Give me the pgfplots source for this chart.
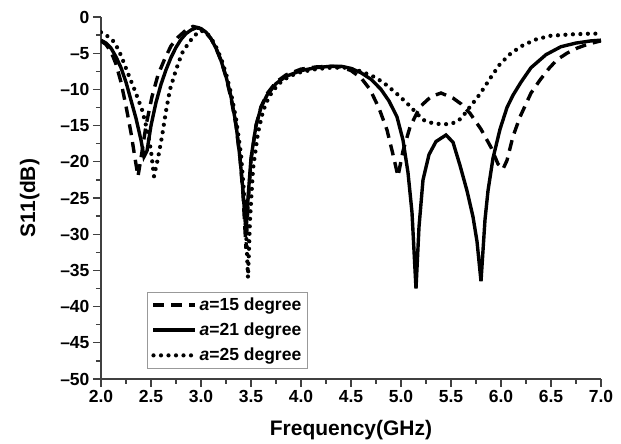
\documentclass[border=0pt]{standalone}
\usepackage{pgfplots}
\pgfplotsset{compat=1.18}
\usepackage{fontspec}
\setmainfont{Liberation Sans}
\begin{document}
\begin{tikzpicture}
\begin{axis}[
  scale only axis, width=500pt, height=362pt,
  xmin=2, xmax=7, ymin=-50, ymax=0,
  axis x line*=bottom, axis y line*=left,
  axis line style={line width=1.3pt, color=black!75},
  xtick={2,2.5,...,7}, ytick={-50,-45,...,0},
  yticklabels={--50,--45,--40,--35,--30,--25,--20,--15,--10,--5,0},
  minor x tick num=1, minor y tick num=1,
  tick align=outside,
  major tick length=8pt, minor tick length=5pt,
  tick style={line width=1.3pt, color=black!75},
  /pgf/number format/assume math mode=true,
  xticklabel style={/pgf/number format/fixed, /pgf/number format/fixed zerofill, /pgf/number format/precision=1},
  ticklabel style={font=\bfseries\fontsize{17.5}{17.5}\selectfont},
  xlabel={Frequency(GHz)}, ylabel={S11(dB)},
  label style={font=\bfseries\fontsize{21}{21}\selectfont},
  xlabel style={yshift=-10pt},
  ylabel style={yshift=14pt},
  legend style={at={(0.092,0.028)}, anchor=south west, draw=black!40, line width=0.8pt,
    font=\bfseries\fontsize{17.5}{17.5}\selectfont, row sep=7pt, inner sep=4pt},
  legend cell align=left,
  legend image code/.code={\draw[#1] (0pt,0pt) -- (42pt,0pt);},
]
\addplot[black, line width=3.4pt, dash pattern=on 11pt off 7pt] coordinates {
(2.00,-3.3)(2.05,-3.8)(2.10,-4.8)(2.15,-6.5)(2.20,-9.0)(2.25,-12.3)(2.30,-16.0)(2.34,-19.5)(2.37,-22.0)(2.40,-19.5)(2.45,-15.0)(2.51,-11.0)(2.57,-8.0)(2.64,-5.7)(2.70,-4.0)(2.77,-2.8)(2.85,-1.8)(2.92,-1.3)(2.98,-1.5)(3.05,-2.2)(3.10,-3.0)(3.15,-4.3)(3.20,-6.0)(3.25,-8.3)(3.30,-11.2)(3.35,-15.0)(3.39,-19.5)(3.42,-24.5)(3.45,-32.0)(3.47,-26.0)(3.50,-19.8)(3.55,-15.0)(3.60,-12.4)(3.66,-10.6)(3.75,-9.0)(3.85,-8.0)(4.00,-7.2)(4.15,-6.9)(4.30,-6.8)(4.40,-6.9)(4.50,-7.4)(4.60,-8.4)(4.69,-10.0)(4.78,-12.6)(4.86,-15.6)(4.92,-19.0)(4.97,-22.0)(5.02,-18.5)(5.09,-15.2)(5.19,-12.4)(5.30,-11.0)(5.40,-10.5)(5.52,-11.2)(5.60,-12.0)(5.69,-13.3)(5.80,-15.5)(5.90,-18.0)(5.97,-20.3)(6.02,-21.0)(6.06,-19.8)(6.12,-16.5)(6.19,-13.8)(6.30,-10.5)(6.39,-8.7)(6.48,-7.1)(6.56,-5.9)(6.66,-5.0)(6.76,-4.3)(6.88,-3.7)(7.00,-3.3)
};
\addlegendentry{\textit{a}=15 degree}
\addplot[black, line width=3.4pt] coordinates {
(2.00,-3.2)(2.05,-3.6)(2.10,-4.3)(2.15,-5.5)(2.20,-7.0)(2.25,-9.0)(2.30,-11.5)(2.35,-14.0)(2.40,-17.0)(2.43,-19.3)(2.46,-18.5)(2.50,-15.0)(2.55,-11.8)(2.60,-9.3)(2.65,-7.3)(2.70,-5.6)(2.75,-4.2)(2.80,-3.1)(2.85,-2.3)(2.90,-1.8)(2.95,-1.5)(3.00,-1.6)(3.05,-2.1)(3.10,-3.0)(3.15,-4.3)(3.20,-6.0)(3.25,-8.2)(3.30,-11.0)(3.35,-14.8)(3.39,-19.5)(3.42,-24.0)(3.45,-29.8)(3.47,-25.0)(3.50,-19.5)(3.55,-15.0)(3.60,-12.5)(3.66,-10.8)(3.75,-9.2)(3.85,-8.2)(4.00,-7.4)(4.15,-7.0)(4.30,-6.8)(4.40,-6.8)(4.50,-7.1)(4.60,-7.7)(4.70,-8.6)(4.80,-10.0)(4.88,-11.6)(4.96,-13.8)(5.02,-17.0)(5.07,-21.5)(5.11,-27.0)(5.15,-37.5)(5.18,-29.0)(5.22,-22.5)(5.28,-19.0)(5.35,-17.2)(5.45,-16.3)(5.52,-17.3)(5.59,-20.5)(5.66,-24.0)(5.72,-27.6)(5.76,-31.0)(5.80,-36.5)(5.84,-28.0)(5.87,-24.0)(5.92,-19.5)(5.99,-15.5)(6.06,-12.5)(6.12,-10.8)(6.20,-9.0)(6.30,-7.0)(6.45,-5.2)(6.60,-4.1)(6.75,-3.6)(6.90,-3.3)(7.00,-3.2)
};
\addlegendentry{\textit{a}=21 degree}
\addplot[black, line width=4.2pt, line cap=round, dash pattern=on 0pt off 7.5pt] coordinates {
(2.00,-2.1)(2.05,-2.5)(2.10,-3.0)(2.14,-3.6)(2.20,-5.3)(2.27,-7.8)(2.34,-10.2)(2.41,-12.8)(2.46,-15.5)(2.50,-18.5)(2.53,-22.0)(2.57,-19.5)(2.61,-16.5)(2.65,-13.0)(2.69,-10.0)(2.75,-7.3)(2.81,-5.0)(2.88,-3.5)(2.94,-2.5)(3.00,-1.9)(3.05,-2.1)(3.10,-2.9)(3.15,-4.1)(3.20,-5.7)(3.25,-7.8)(3.30,-10.5)(3.35,-14.0)(3.40,-19.0)(3.44,-26.0)(3.47,-36.0)(3.49,-28.0)(3.52,-21.0)(3.57,-16.0)(3.62,-13.0)(3.68,-11.0)(3.77,-9.3)(3.88,-8.2)(4.00,-7.6)(4.15,-7.2)(4.30,-7.0)(4.45,-7.0)(4.60,-7.5)(4.72,-8.2)(4.82,-9.0)(4.95,-10.5)(5.06,-11.9)(5.15,-13.2)(5.22,-14.2)(5.30,-14.6)(5.39,-14.8)(5.49,-14.8)(5.57,-14.4)(5.63,-13.5)(5.69,-12.4)(5.76,-11.2)(5.82,-10.0)(5.90,-8.3)(5.99,-6.5)(6.10,-5.0)(6.22,-3.9)(6.35,-3.1)(6.49,-2.6)(6.70,-2.4)(6.90,-2.3)(7.00,-2.3)
};
\addlegendentry{\textit{a}=25 degree}
\end{axis}
\path ([xshift=-101pt,yshift=-65pt]current axis.south west) rectangle ([xshift=20pt,yshift=17pt]current axis.north east);
\end{tikzpicture}
\end{document}
